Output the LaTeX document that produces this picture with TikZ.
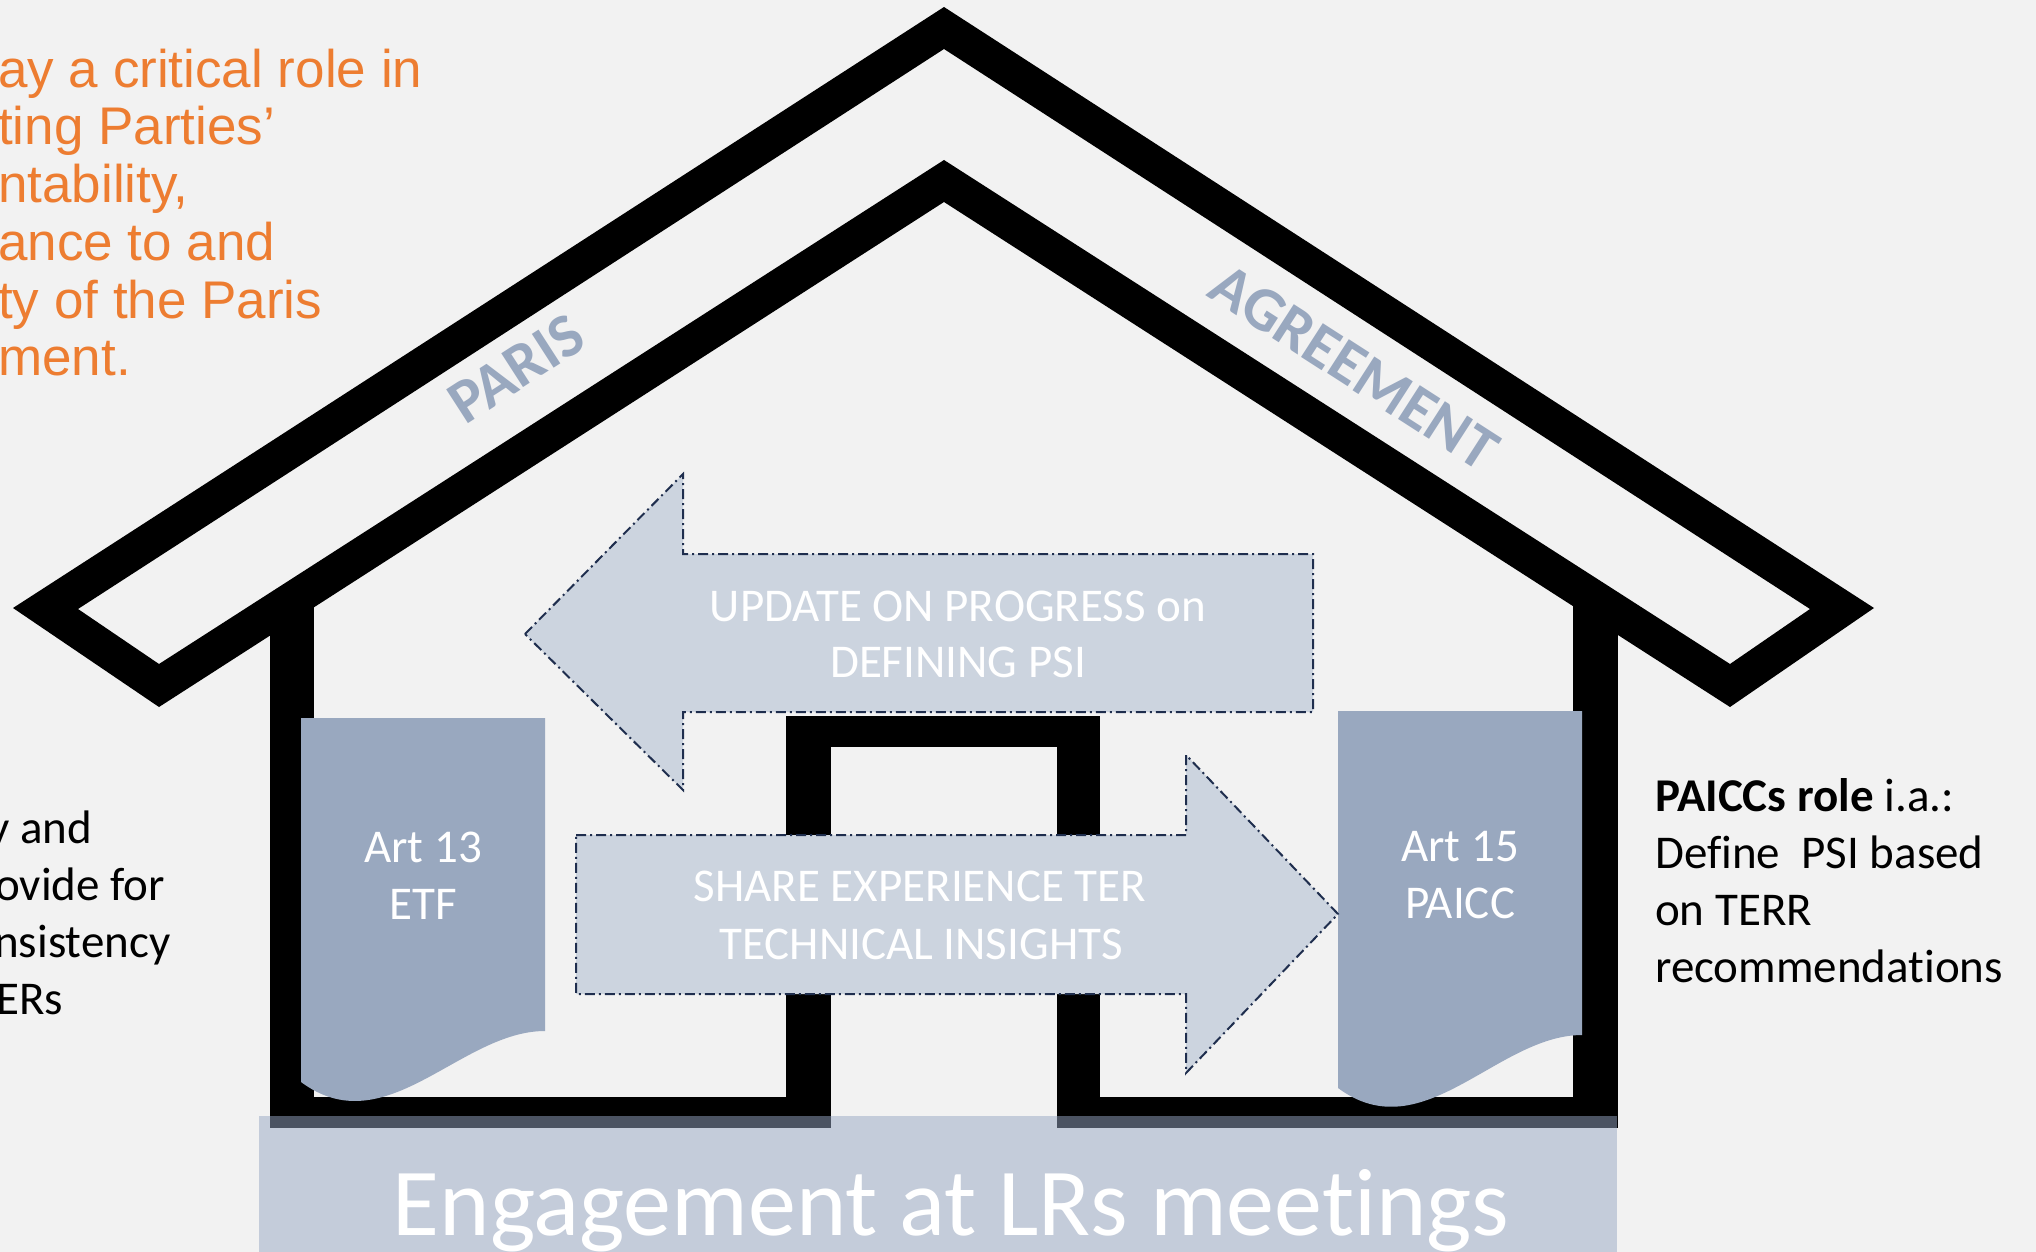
\documentclass[tikz,border=0pt]{standalone}
\usepackage{fontspec}
\setmainfont{Carlito}[Ligatures=NoCommon]
\newfontfamily\arialfont{Liberation Sans}
\usetikzlibrary{arrows,backgrounds,positioning}

\definecolor{paper}{RGB}{242,242,242}
\definecolor{docblue}{RGB}{153,168,191}
\definecolor{arrowblue}{RGB}{204,212,223}
\definecolor{navy}{RGB}{31,46,78}
\definecolor{roleorange}{RGB}{237,125,49}
\definecolor{meetblue}{RGB}{151,167,196}

\begin{document}
\begin{tikzpicture}[x=1pt,y=-1pt]
  \useasboundingbox (0,0) rectangle (2036,1252);
  \clip (0,0) rectangle (2036,1252);
  \fill[paper] (0,0) rectangle (2036,1252);                        % Background

  \fill[black,even odd rule] (944,7) -- (1874,608) -- (1730,707) -- (944,202)
        -- (159,707) -- (13,608) -- cycle
        (944,49) -- (1810,609) -- (1730,664) -- (944,160)
        -- (159,664) -- (78,609) -- cycle;                          % Roof

  \fill (270,600) rectangle (314,1128);                             % Left wall
  \fill (1573,600) rectangle (1618,1128);                           % Right wall
  \fill (270,1097) rectangle (831,1128);                            % Floor left
  \fill (1057,1097) rectangle (1618,1128);                          % Floor right
  \fill (786,716) rectangle (1100,747);                             % Door top
  \fill (786,716) rectangle (831,1128);                             % Door post
  \fill (1057,716) rectangle (1100,1128);                           % Door post

  \fill[docblue] (301,718) -- (545,718) -- (545,1031)
        .. controls (460,1031) and (386,1145) .. (301,1082) -- cycle;   % Document Art 13
  \fill[docblue] (1338,711) -- (1582,711) -- (1582,1035)
        .. controls (1497,1035) and (1423,1151) .. (1338,1088) -- cycle; % Document Art 15

  \filldraw[fill=arrowblue,draw=navy,line width=2pt,dash pattern=on 10pt off 4pt on 2pt off 4pt]
        (525,634) -- (683,474) -- (683,554) -- (1313,554) -- (1313,712)
        -- (683,712) -- (683,790) -- cycle;                         % Arrow to the left
  \filldraw[fill=arrowblue,draw=navy,line width=2pt,dash pattern=on 10pt off 4pt on 2pt off 4pt]
        (576,835) -- (1186,835) -- (1186,755) -- (1338,914) -- (1186,1073)
        -- (1186,994) -- (576,994) -- cycle;                        % Arrow to the right

  \fill[meetblue,fill opacity=0.5] (259,1116) rectangle (1617,1252); % Meetings band

  \node[text=docblue,font=\bfseries\fontsize{62}{74}\selectfont,rotate=32.8] (paris) at (516,369) {PARIS};
  \node[text=docblue,font=\bfseries\fontsize{62}{74}\selectfont,rotate=-32.8] (agreement) at (1354,367) {AGREEMENT};

  \node[anchor=base west,inner sep=0,text=roleorange,font=\arialfont\fontsize{53}{57}\selectfont] (role1) at (-2,88) {ay a critical role in};
  \node[anchor=base west,inner sep=0,text=roleorange,font=\arialfont\fontsize{53}{57}\selectfont] (role2) at (-2,145) {ting Parties’};
  \node[anchor=base west,inner sep=0,text=roleorange,font=\arialfont\fontsize{53}{57}\selectfont] (role3) at (-2,203) {ntability,};
  \node[anchor=base west,inner sep=0,text=roleorange,font=\arialfont\fontsize{53}{57}\selectfont] (role4) at (-2,260) {ance to and};
  \node[anchor=base west,inner sep=0,text=roleorange,font=\arialfont\fontsize{53}{57}\selectfont] (role5) at (-2,318) {ty of the Paris};
  \node[anchor=base west,inner sep=0,text=roleorange,font=\arialfont\fontsize{53}{57}\selectfont] (role6) at (-2,375) {ment.};

  \node[anchor=base west,inner sep=0,font=\fontsize{47}{57}\selectfont] (etf1) at (-12,843) {y and};
  \node[anchor=base west,inner sep=0,font=\fontsize{47}{57}\selectfont] (etf2) at (-5,900) {ovide for};
  \node[anchor=base west,inner sep=0,font=\fontsize{47}{57}\selectfont] (etf3) at (-6,957) {nsistency};
  \node[anchor=base west,inner sep=0,font=\fontsize{47}{57}\selectfont] (etf4) at (-4,1014) {ERs};

  \node[anchor=base west,inner sep=0,font=\fontsize{47}{57}\selectfont] (paicc1) at (1655,811) {\textbf{PAICCs role} i.a.:};
  \node[anchor=base west,inner sep=0,font=\fontsize{47}{57}\selectfont] (paicc2) at (1655,868) {Define\ \ PSI based};
  \node[anchor=base west,inner sep=0,font=\fontsize{47}{57}\selectfont] (paicc3) at (1655,925) {on TERR};
  \node[anchor=base west,inner sep=0,font=\fontsize{47}{57}\selectfont] (paicc4) at (1655,982) {recommendat\kern0pt ions};

  \node[anchor=base,inner sep=0,text=white,font=\fontsize{47}{57}\selectfont] (art13) at (423,862) {Art 13};
  \node[anchor=base,inner sep=0,text=white,font=\fontsize{47}{57}\selectfont] (etf) at (423,919) {ETF};
  \node[anchor=base,inner sep=0,text=white,font=\fontsize{47}{57}\selectfont] (art15) at (1460,861) {Art 15};
  \node[anchor=base,inner sep=0,text=white,font=\fontsize{47}{57}\selectfont] (paicc) at (1460,918) {PAICC};

  \node[anchor=base,inner sep=0,text=white,font=\fontsize{47}{57}\selectfont] (update1) at (958,621) {UPDATE ON PROGRESS on};
  \node[anchor=base,inner sep=0,text=white,font=\fontsize{47}{57}\selectfont] (update2) at (958,677) {DEFINING PSI};
  \node[anchor=base,inner sep=0,text=white,font=\fontsize{47}{57}\selectfont] (share1) at (920,901) {SHARE EXPERIENCE TER};
  \node[anchor=base,inner sep=0,text=white,font=\fontsize{47}{57}\selectfont] (share2) at (921,959) {TECHNICAL INSIGHTS};

  \node[anchor=base,inner sep=0,text=white,font=\fontsize{96}{112}\selectfont] (meetings) at (951,1235) {Engagement at LRs meet\kern0pt ings};
\end{tikzpicture}
\end{document}
